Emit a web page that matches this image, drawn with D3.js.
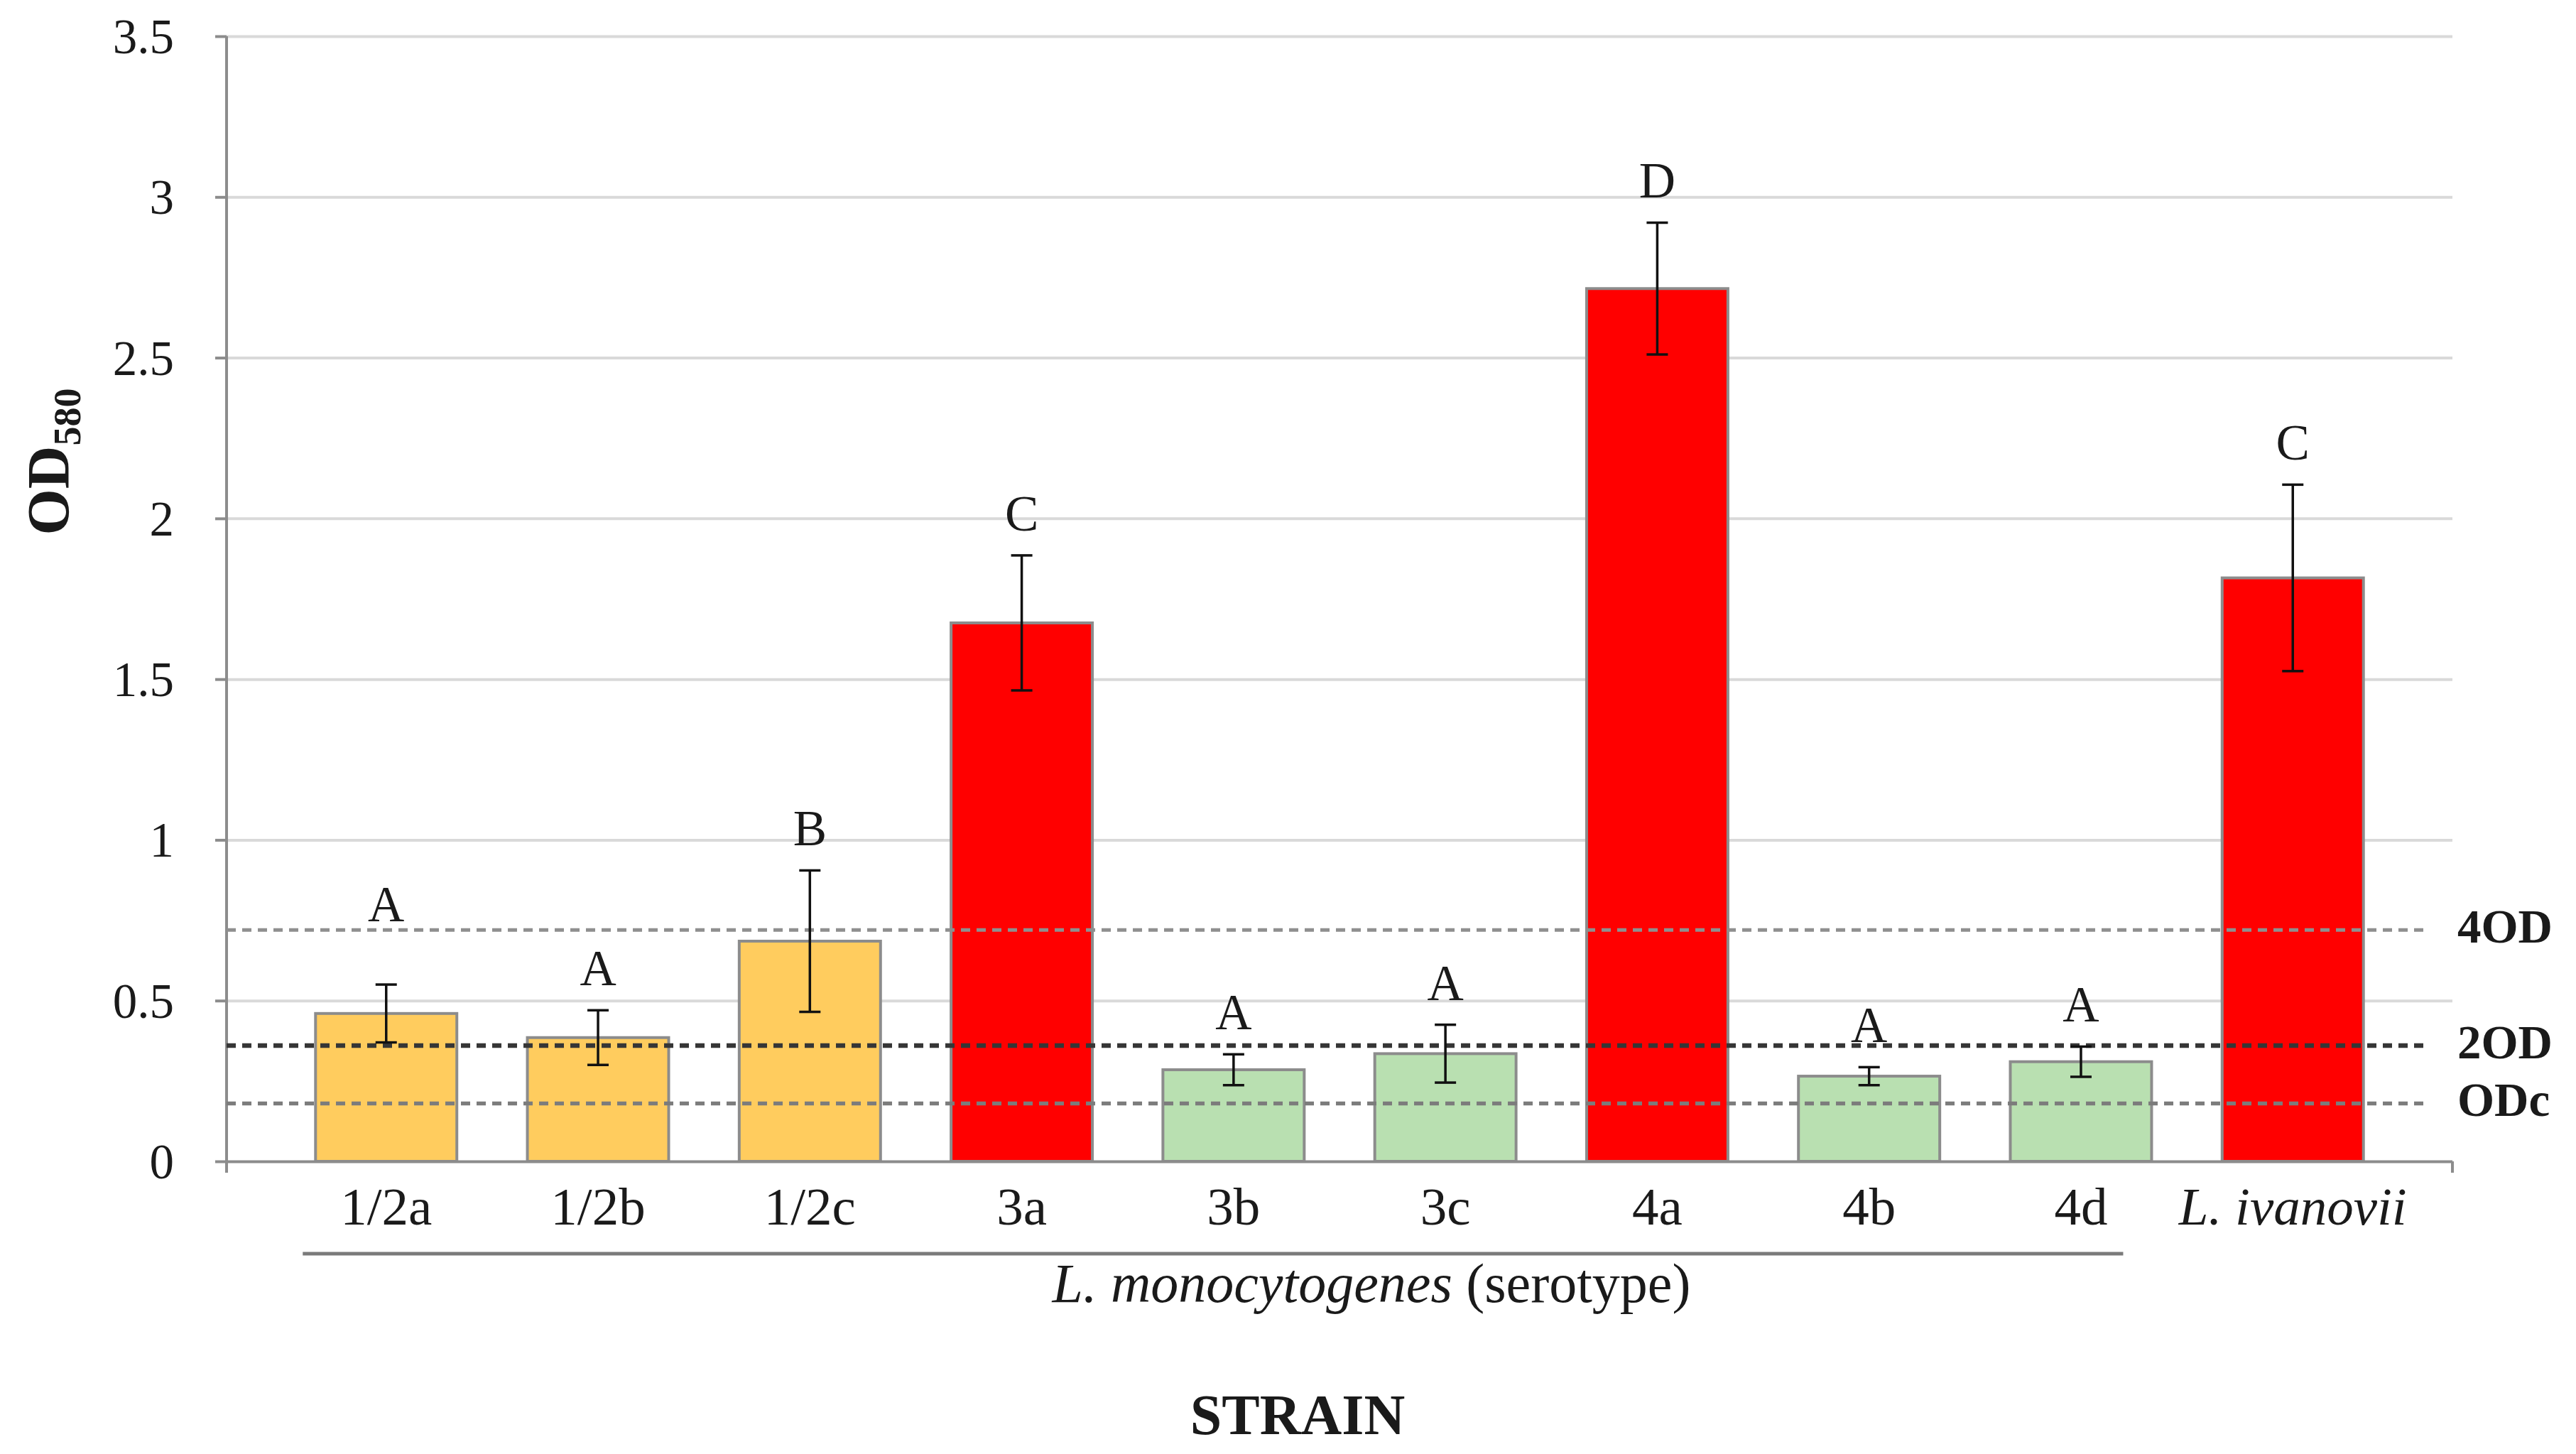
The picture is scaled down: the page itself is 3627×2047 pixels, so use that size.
<!DOCTYPE html>
<html>
<head>
<meta charset="utf-8">
<script src="https://cdn.jsdelivr.net/npm/d3@7"></script>
<style>
  body { margin: 0; background: #fff; }
  text { font-family: "Liberation Serif", "Times New Roman", serif; fill: #1a1a1a; }
</style>
</head>
<body>
<svg id="chart" width="3627" height="2047"></svg>
<script>
// Biofilm formation (OD580) per strain
const strains = ["1/2a", "1/2b", "1/2c", "3a", "3b", "3c", "4a", "4b", "4d", "L. ivanovii"];
const means = [0.46, 0.385, 0.685, 1.675, 0.285, 0.335, 2.715, 0.265, 0.31, 1.815];
const errors = [0.09, 0.085, 0.22, 0.21, 0.048, 0.09, 0.205, 0.028, 0.047, 0.29];
const letters = ["A", "A", "B", "C", "A", "A", "D", "A", "A", "C"];
const classes = ["moderate", "moderate", "moderate", "strong", "weak", "weak", "strong", "weak", "weak", "strong"];

// Cut-off lines
const cutNames = ["4OD", "2OD", "ODc"];
const cutValues = [0.72, 0.36, 0.18];

const yTicks = [0, 0.5, 1, 1.5, 2, 2.5, 3, 3.5];
const speciesGroup = "L. monocytogenes";

const config = {
  WIDTH: 3627,
  HEIGHT: 2047,
  LEFT: 319,
  RIGHT: 3453,
  TOP: 51,
  BOTTOM: 1635,
  TICK: 16,
  CUT_END: 3412,
  COLORS: { moderate: "#ffcc5e", strong: "#ff0000", weak: "#b9e0b1" },
  CUT_STYLE: {
    "4OD": { stroke: "#8f8f8f", width: 5 },
    "2OD": { stroke: "#363636", width: 6.5 },
    ODc: { stroke: "#7c7c7c", width: 5.5 },
  },
};

const svg = d3.select("#chart");

const x = d3
  .scaleBand()
  .domain(strains)
  .range([config.LEFT, config.RIGHT])
  .paddingInner(0.333)
  .paddingOuter(0.42);

const y = d3
  .scaleLinear()
  .domain([0, 3.5])
  .range([config.BOTTOM, config.TOP]);

const data = strains.map((s, i) => ({
  strain: s,
  mean: means[i],
  err: errors[i],
  letter: letters[i],
  cls: classes[i],
}));

// Grid (drawn with an axis so the ticks stick out left of the y axis)
svg
  .append("g")
  .attr("transform", `translate(${config.LEFT},0)`)
  .call(
    d3
      .axisLeft(y)
      .tickValues(yTicks)
      .tickSize(-(config.RIGHT - config.LEFT))
      .tickFormat(""),
  )
  .call((g) => g.select(".domain").remove())
  .call((g) =>
    g
      .selectAll(".tick line")
      .attr("stroke", (d) => (d === 0 ? "#8c8c8c" : "#d9d9d9"))
      .attr("stroke-width", 4),
  );

// Y axis with outward ticks and labels
const gy = svg
  .append("g")
  .attr("transform", `translate(${config.LEFT},0)`)
  .call(
    d3
      .axisLeft(y)
      .tickValues(yTicks)
      .tickSize(config.TICK)
      .tickPadding(58)
      .tickFormat((d) => d),
  );
gy.select(".domain").remove();
gy.selectAll(".tick line").attr("stroke", "#8c8c8c").attr("stroke-width", 4);
gy.selectAll(".tick text")
  .attr("font-size", 69)
  .attr("font-family", "Liberation Serif, serif")
  .attr("fill", "#1a1a1a")
  .attr("dy", "0.34em");

svg
  .append("line")
  .attr("x1", config.LEFT)
  .attr("x2", config.LEFT)
  .attr("y1", y(3.5))
  .attr("y2", y(0) + config.TICK)
  .attr("stroke", "#8c8c8c")
  .attr("stroke-width", 4);

// Right-end tick of the x axis
svg
  .append("line")
  .attr("x1", config.RIGHT)
  .attr("x2", config.RIGHT)
  .attr("y1", y(0))
  .attr("y2", y(0) + config.TICK)
  .attr("stroke", "#8c8c8c")
  .attr("stroke-width", 4);

// Bars
svg
  .append("g")
  .selectAll("rect")
  .data(data)
  .join("rect")
  .attr("x", (d) => x(d.strain))
  .attr("width", x.bandwidth())
  .attr("y", (d) => y(d.mean))
  .attr("height", (d) => y(0) - y(d.mean))
  .attr("fill", (d) => config.COLORS[d.cls])
  .attr("stroke", "#8c8c8c")
  .attr("stroke-width", 4);

// Cut-off dashed lines
const cuts = cutNames.map((name, i) => ({ name, value: cutValues[i] }));

svg
  .append("g")
  .selectAll("line")
  .data(cuts)
  .join("line")
  .attr("x1", config.LEFT)
  .attr("x2", config.CUT_END)
  .attr("y1", (d) => y(d.value))
  .attr("y2", (d) => y(d.value))
  .attr("stroke", (d) => config.CUT_STYLE[d.name].stroke)
  .attr("stroke-width", (d) => config.CUT_STYLE[d.name].width)
  .attr("stroke-dasharray", "13,9");

svg
  .append("g")
  .selectAll("text")
  .data(cuts)
  .join("text")
  .attr("x", config.CUT_END + 48)
  .attr("y", (d) => y(d.value) - 6)
  .attr("dy", "0.35em")
  .attr("font-size", 67)
  .attr("font-weight", "bold")
  .text((d) => d.name);

// Error bars
const cx = (d) => x(d.strain) + x.bandwidth() / 2;
const gErr = svg
  .append("g")
  .attr("stroke", "#111")
  .attr("stroke-width", 3.5)
  .selectAll("g")
  .data(data)
  .join("g");

gErr
  .append("line")
  .attr("x1", cx)
  .attr("x2", cx)
  .attr("y1", (d) => y(d.mean - d.err))
  .attr("y2", (d) => y(d.mean + d.err));

gErr
  .selectAll("line.cap")
  .data((d) => [
    [d, d.mean - d.err],
    [d, d.mean + d.err],
  ])
  .join("line")
  .attr("class", "cap")
  .attr("x1", ([d]) => cx(d) - 15)
  .attr("x2", ([d]) => cx(d) + 15)
  .attr("y1", ([, v]) => y(v))
  .attr("y2", ([, v]) => y(v));

// Significance letters: sit above the error bar, lifted over a cut-off line
// if one would run through the letter
const LETTER_GAP = 35;
const CAP_HEIGHT = 48;
const letterY = (d) => {
  let base = y(d.mean + d.err) - LETTER_GAP;
  cutValues.forEach((v) => {
    const ly = y(v);
    if (ly > base - CAP_HEIGHT && ly < base - 10) base = ly - 12;
  });
  return base;
};

svg
  .append("g")
  .selectAll("text")
  .data(data)
  .join("text")
  .attr("x", cx)
  .attr("y", letterY)
  .attr("text-anchor", "middle")
  .attr("font-size", 71)
  .text((d) => d.letter);

// Category labels
svg
  .append("g")
  .selectAll("text")
  .data(data)
  .join("text")
  .attr("x", cx)
  .attr("y", 1724)
  .attr("text-anchor", "middle")
  .attr("font-size", 75)
  .attr("font-style", (d) => (d.strain.startsWith("L.") ? "italic" : null))
  .text((d) => d.strain);

// Bracket under the L. monocytogenes serotypes
const lmono = strains.filter((s) => !s.startsWith("L."));
svg
  .append("line")
  .attr("x1", x(lmono[0]) - 18)
  .attr("x2", x(lmono[lmono.length - 1]) + x.bandwidth() - 40)
  .attr("y1", 1765)
  .attr("y2", 1765)
  .attr("stroke", "#7a7a7a")
  .attr("stroke-width", 5);

// Group label sits a bit right of the bracket centre, as in the source
const groupLabel = svg
  .append("text")
  .attr("x", 1931)
  .attr("y", 1833)
  .attr("text-anchor", "middle")
  .attr("font-size", 78);
groupLabel.append("tspan").attr("font-style", "italic").text(speciesGroup);
groupLabel.append("tspan").text(" (serotype)");

// Axis titles
svg
  .append("text")
  .attr("x", 1827)
  .attr("y", 2019)
  .attr("text-anchor", "middle")
  .attr("font-size", 80)
  .attr("font-weight", "bold")
  .text("STRAIN");

const yTitle = svg
  .append("text")
  .attr("transform", "translate(97,650) rotate(-90)")
  .attr("text-anchor", "middle")
  .attr("font-size", 84)
  .attr("font-weight", "bold");
yTitle.append("tspan").text("OD");
yTitle
  .append("tspan")
  .attr("font-size", 54)
  .attr("dy", 16)
  .text("580");
</script>
</body>
</html>
